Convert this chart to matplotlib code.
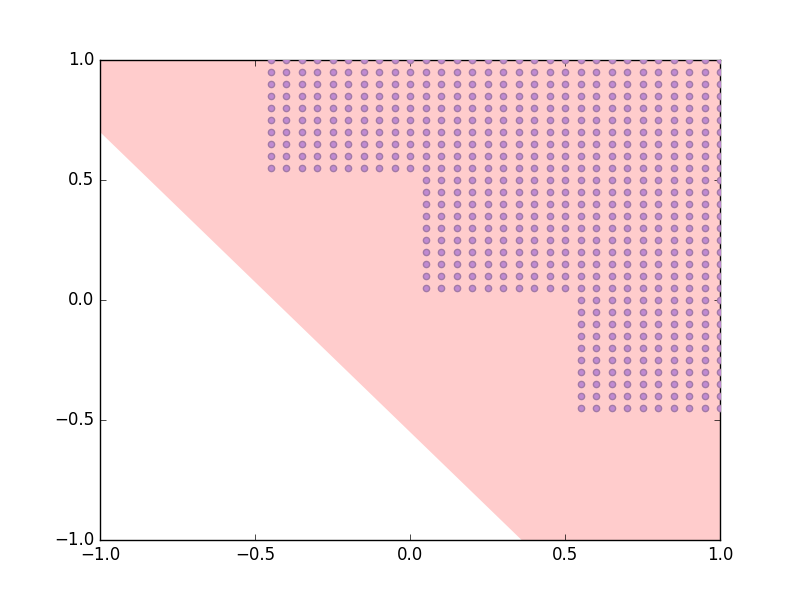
import numpy as np
import matplotlib
matplotlib.use("Agg")
import matplotlib.pyplot as plt

# boundary of the shaded half-plane (line through these two points)
boundary_x = [-1.0, 1.0]
boundary_y = [0.7, -1.8]

# grid spacing of the dot lattice
step = 0.05

# staircase blocks of dots: (x_start, y_start, y_end), each runs to x = 1.0
blocks = [
    (-0.45, 0.55, 1.0),
    (0.05, 0.05, 0.5),
    (0.55, -0.45, 0.0),
]
x_end = 1.0

plt.style.use('classic')
fig, ax = plt.subplots(figsize=(8, 6), dpi=100)

# shaded region above the line
ax.fill_between(boundary_x, boundary_y, 1.0, color='red', alpha=0.2, linewidth=0)

# dot lattice
px, py = [], []
for x0, y0, y1 in blocks:
    xs = np.round(np.arange(x0, x_end + step / 2, step), 2)
    ys = np.round(np.arange(y0, y1 + step / 2, step), 2)
    gx, gy = np.meshgrid(xs, ys)
    px.extend(gx.ravel())
    py.extend(gy.ravel())
ax.scatter(px, py, s=20, facecolor='#c08ad2', edgecolor='#a27aa6', linewidth=1, zorder=3)

ax.set_xlim(-1, 1)
ax.set_ylim(-1, 1)
ax.set_xticks([-1.0, -0.5, 0.0, 0.5, 1.0])
ax.set_yticks([-1.0, -0.5, 0.0, 0.5, 1.0])

fig.savefig('out.png', dpi=100)
